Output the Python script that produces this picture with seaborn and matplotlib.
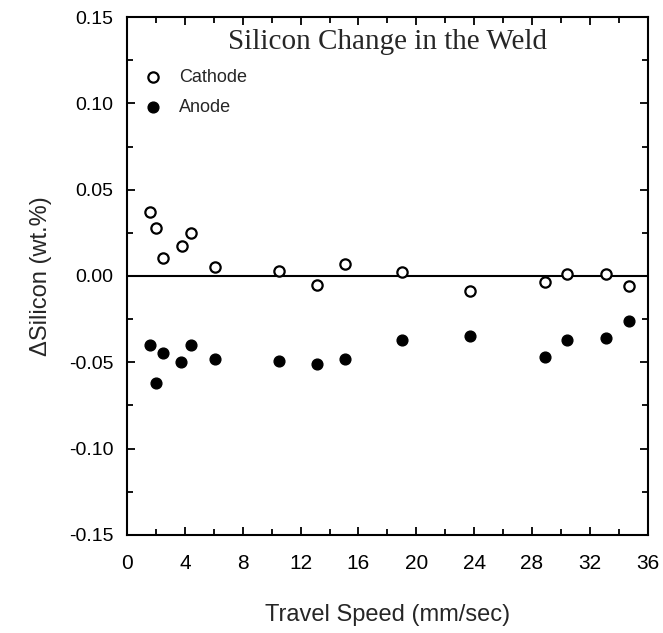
import numpy as np
import pandas as pd
import seaborn as sns
from matplotlib import pyplot as plt
from matplotlib.ticker import MultipleLocator

# travel speed (mm/sec)
cathode_speed = [1.6, 2.0, 2.5, 3.8, 4.4, 6.1, 10.5, 13.1, 15.1, 19.0, 23.7, 28.9, 30.4, 33.1, 34.7]
cathode_dsi = [0.037, 0.028, 0.0105, 0.0175, 0.025, 0.005, 0.003, -0.005, 0.007, 0.0023,
               -0.0086, -0.0034, 0.0013, 0.001, -0.006]

anode_speed = [1.6, 2.0, 2.5, 3.7, 4.4, 6.1, 10.5, 13.1, 15.1, 19.0, 23.7, 28.9, 30.4, 33.1, 34.7]
anode_dsi = [-0.040, -0.062, -0.0445, -0.050, -0.040, -0.048, -0.049, -0.051, -0.048, -0.037,
             -0.035, -0.0467, -0.037, -0.036, -0.026]

x_ticks = [0, 4, 8, 12, 16, 20, 24, 28, 32, 36]
y_ticks = [0.15, 0.10, 0.05, 0.00, -0.05, -0.10, -0.15]

sns.set_style("ticks")
plt.rcParams["font.family"] = ["Liberation Sans", "DejaVu Sans"]

cath = pd.DataFrame({"speed": cathode_speed, "dsi": cathode_dsi})
anod = pd.DataFrame({"speed": anode_speed, "dsi": anode_dsi})

fig = plt.figure(figsize=(6.63, 6.33), dpi=100)
ax = fig.add_axes([0.1916, 0.155, 0.7854, 0.818])

ax.axhline(0, color="black", lw=1.5, zorder=1)
sns.scatterplot(data=cath, x="speed", y="dsi", ax=ax, s=55, marker="o",
                facecolor="white", edgecolor="black", linewidth=1.6,
                label="Cathode", zorder=3)
sns.scatterplot(data=anod, x="speed", y="dsi", ax=ax, s=60, marker="o",
                color="black", edgecolor="black", linewidth=1,
                label="Anode", zorder=3)

ax.set_xlim(0, 36)
ax.set_ylim(-0.15, 0.15)
ax.set_xticks(x_ticks)
ax.set_yticks(y_ticks)
ax.set_yticklabels(["{:.2f}".format(v) for v in y_ticks])
ax.xaxis.set_minor_locator(MultipleLocator(2))
ax.yaxis.set_minor_locator(MultipleLocator(0.025))
ax.tick_params(which="both", direction="in", top=True, right=True, width=1.3, colors="black")
ax.tick_params(which="major", length=6, labelsize=14, pad=10)
ax.tick_params(axis="x", which="major", labelsize=15, pad=14)
ax.tick_params(which="minor", length=4)
for sp in ax.spines.values():
    sp.set_linewidth(1.5)
    sp.set_color("black")

ax.set_xlabel("Travel Speed (mm/sec)", fontsize=17, labelpad=22)
ax.set_ylabel("\u0394Silicon (wt.%)", fontsize=17, labelpad=12)

ax.text(0.5, 0.952, "Silicon Change in the Weld", transform=ax.transAxes,
        ha="center", va="center", fontsize=21, family=["Liberation Serif", "DejaVu Serif"])

ax.legend(loc="upper left", bbox_to_anchor=(0.0, 0.925), frameon=False, fontsize=13,
          handletextpad=0.7, labelspacing=0.75, borderaxespad=0.3, handlelength=1.5)

fig.savefig("out.png", dpi=100)
